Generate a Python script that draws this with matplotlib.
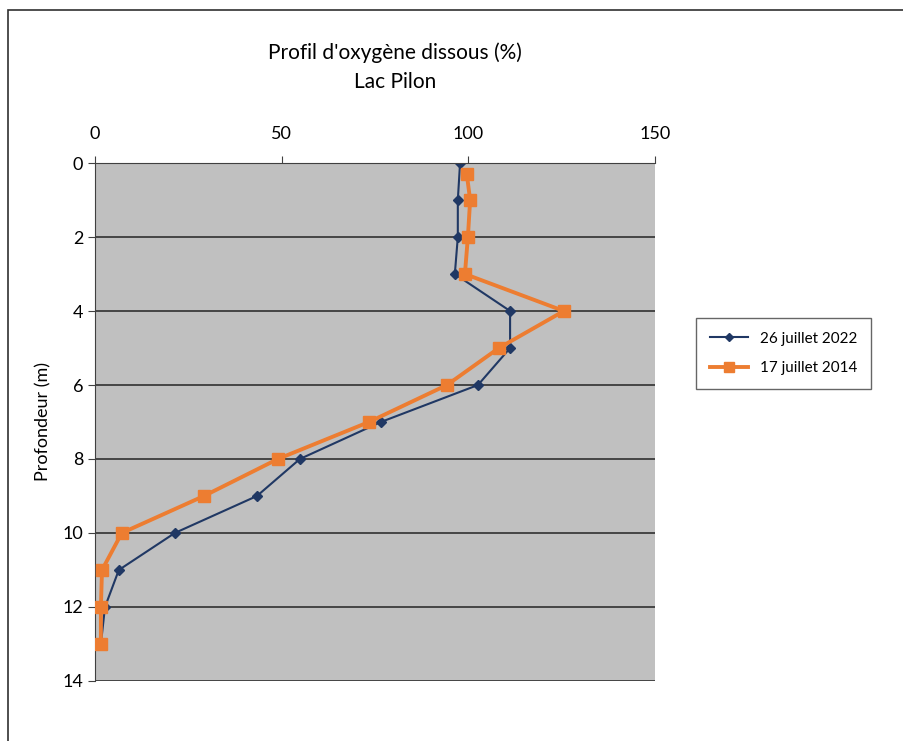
import matplotlib.pyplot as plt
from matplotlib.patches import Rectangle

plt.rcParams['font.family'] = ['Lato', 'DejaVu Sans']

# Profondeur (m) et oxygene dissous (%)
depth_2022 = [0, 1, 2, 3, 4, 5, 6, 7, 8, 9, 10, 11, 12, 13]
oxy_2022 = [97.8, 97.2, 97.2, 96.4, 111.2, 111.2, 102.6, 76.6, 54.9, 43.4, 21.4, 6.4, 2.7, 1.6]

depth_2014 = [0.3, 1, 2, 3, 4, 5, 6, 7, 8, 9, 10, 11, 12, 13]
oxy_2014 = [99.6, 100.5, 99.9, 99.1, 125.6, 108.2, 94.3, 73.4, 49.0, 29.2, 7.2, 1.9, 1.6, 1.6]

fig = plt.figure(figsize=(9.04, 7.41), dpi=100)
ax = fig.add_axes([0.105, 0.081, 0.6195, 0.699])

ax.set_facecolor('#c0c0c0')
ax.plot(oxy_2022, depth_2022, color='#203864', marker='D', markersize=5,
        linewidth=1.5, label='26 juillet 2022', zorder=2)
ax.plot(oxy_2014, depth_2014, color='#ed7d31', marker='s', markersize=9,
        linewidth=2.8, label='17 juillet 2014', zorder=3)

ax.set_xlim(0, 150)
ax.set_ylim(14, 0)
ax.set_xticks([0, 50, 100, 150])
ax.set_yticks(range(0, 15, 2))
ax.xaxis.tick_top()
ax.tick_params(axis='both', labelsize=13, length=5, color='#404040')
ax.tick_params(axis='x', pad=10)
ax.yaxis.grid(True, color='#303030', linewidth=1.2)
ax.set_axisbelow(True)
for side in ['left', 'top']:
    ax.spines[side].set_color('#404040')
for side in ['right', 'bottom']:
    ax.spines[side].set_visible(False)
ax.set_ylabel('Profondeur (m)', fontsize=13, labelpad=8)

fig.text(0.437, 0.929, "Profil d'oxygène dissous (%)", ha='center', va='center', fontsize=15)
fig.text(0.437, 0.889, 'Lac Pilon', ha='center', va='center', fontsize=15)

fig.legend(loc='center', bbox_to_anchor=(0.867, 0.523), fontsize=11,
           frameon=True, fancybox=False, edgecolor='#404040',
           borderpad=0.9, labelspacing=1.0, handlelength=2.5, markerscale=0.8)

fig.patches.append(Rectangle((0.009, -0.01), 1.2, 0.997, transform=fig.transFigure,
                             fill=False, edgecolor='#303030', linewidth=1.2))

plt.savefig('out.png')
